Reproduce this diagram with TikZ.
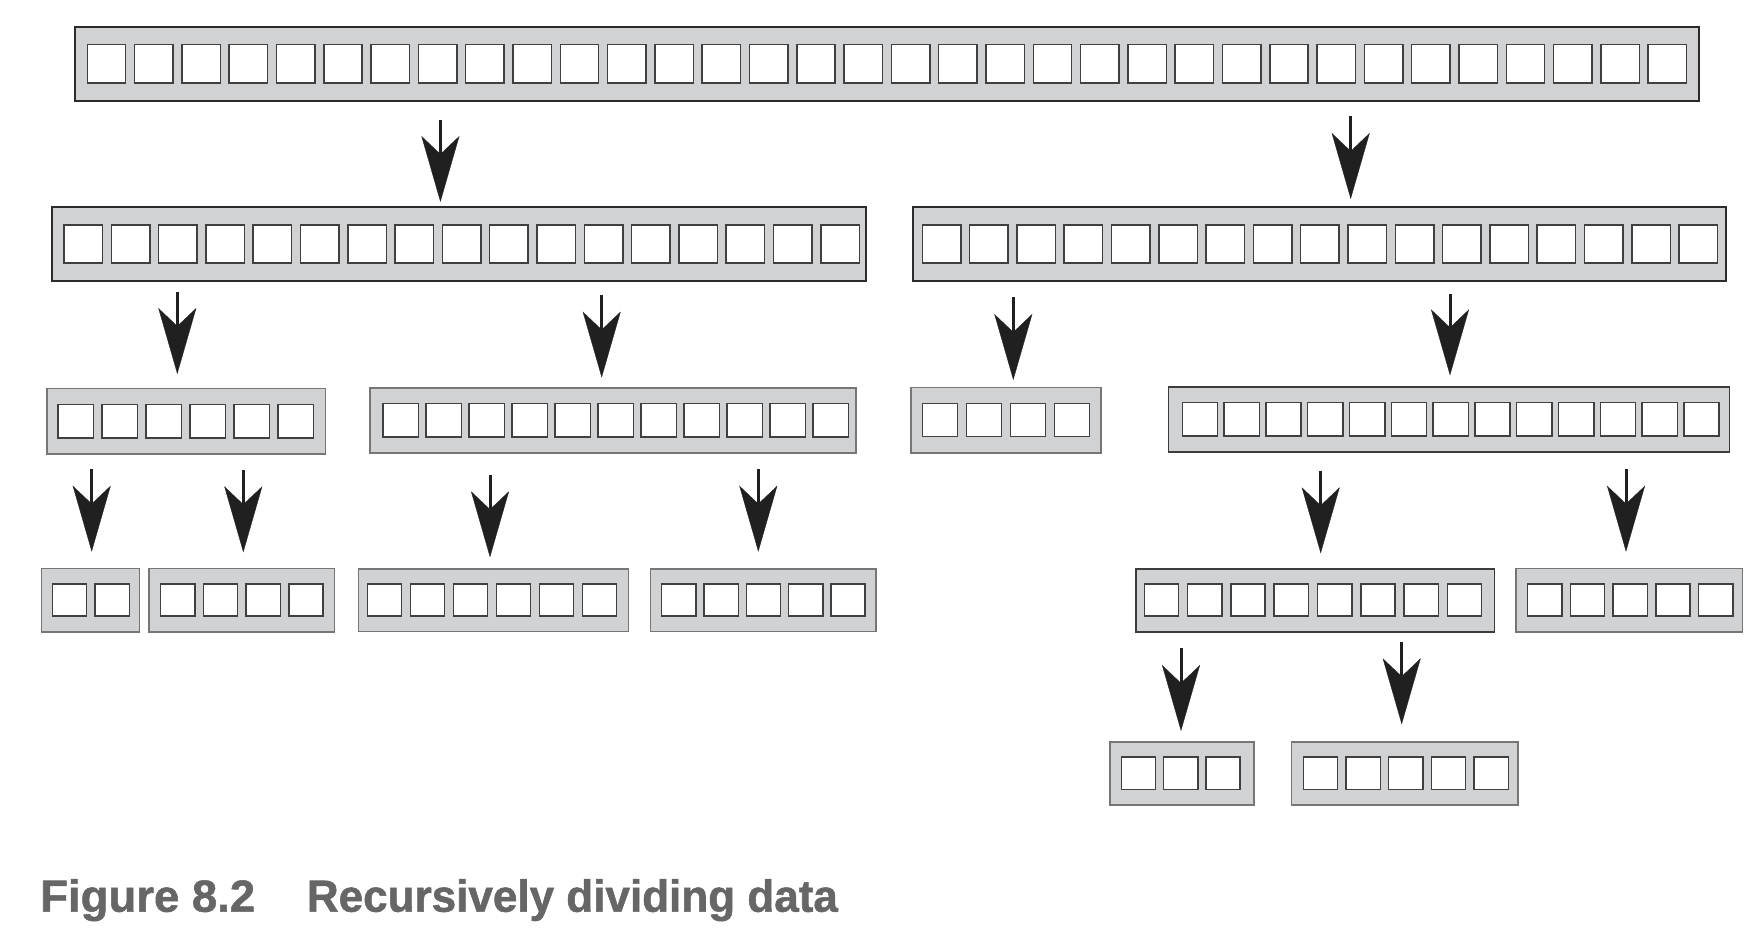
\documentclass[tikz,border=0pt]{standalone}
\usepackage{graphicx}
\usepackage{fontspec}
\setmainfont{Liberation Sans}
\newfontfamily\capfont{Liberation Sans}[BoldFeatures={FakeBold=1.2}]
\usetikzlibrary{arrows.meta}
\definecolor{boxfill}{HTML}{D1D2D4}
\definecolor{darkline}{HTML}{2B2B2B}
\definecolor{midline}{HTML}{3C3C3C}
\definecolor{lightline}{HTML}{767676}
\definecolor{cellline}{HTML}{404040}
\definecolor{arrowc}{HTML}{202020}
\definecolor{capgray}{HTML}{666666}
\newcommand{\cellw}{38}
\newcommand{\cellh}{38}
\newcommand{\setcell}[2]{\renewcommand{\cellw}{#1}\renewcommand{\cellh}{#2}}
\tikzset{
  boxdark/.style={rectangle, draw=darkline, fill=boxfill, line width=2.2pt, inner sep=0pt, outer sep=0pt},
  boxmid/.style={rectangle, draw=midline, fill=boxfill, line width=1.6pt, inner sep=0pt, outer sep=0pt},
  boxlight/.style={rectangle, draw=lightline, fill=boxfill, line width=1.6pt, inner sep=0pt, outer sep=0pt},
  cellst/.style={rectangle, draw=cellline, fill=white, line width=1.5pt, inner sep=0pt, outer sep=0pt,
     minimum width=\cellw pt, minimum height=\cellh pt},
  arr/.style={draw=arrowc, line width=3pt, -{Stealth[length=66pt,width=38pt,inset=18pt,line width=0.3pt]}},
  captext/.style={anchor=base west, inner sep=0pt, text=capgray, font=\capfont\bfseries\fontsize{45}{50}\selectfont}
}
% style, name, left, top, right, bottom, n, first cell left, pitch
\newcommand{\databox}[9]{%
  \node[#1, anchor=north west, minimum width={#5pt-#3pt}, minimum height={#6pt-#4pt}] (#2) at (#3,#4) {};
  \foreach \k in {1,...,#7}{%
    \node[cellst, anchor=west] (#2-\k) at ({#8+(\k-1)*#9},{(#4+#6)/2}) {};
  }%
}
% name, x, top, tip
\newcommand{\darrow}[4]{%
  \coordinate (#1s) at (#2,#3);
  \coordinate (#1e) at (#2,#4);
  \draw[arr] (#1s) -- (#1e);
}
\begin{document}
\begin{tikzpicture}[x=1pt,y=-1pt]
\useasboundingbox (0,0) rectangle (1757,947);
% level 1
\setcell{38.4}{38.3}
\databox{boxdark}{top}{75.3}{26.7}{1699}{100.7}{34}{87.3}{47.3}
% level 2
\setcell{38.5}{38}
\databox{boxdark}{L}{52}{206.7}{865.7}{281}{17}{64}{47.3}
\databox{boxdark}{R}{912.7}{206.7}{1726.3}{281}{17}{922.3}{47.3}
% level 3
\setcell{35.3}{33.3}
\databox{boxlight}{LL}{46.7}{388.5}{325.3}{454}{6}{58}{44}
\databox{boxlight}{LR}{370}{388}{856}{452.7}{11}{383}{43}
\databox{boxlight}{RL}{911}{387.3}{1100.7}{452.7}{4}{922.3}{44}
\databox{boxmid}{RR}{1168.3}{387}{1729.3}{451.7}{13}{1182.3}{41.8}
% level 4
\setcell{34.3}{32}
\databox{boxlight}{LLa}{41.3}{568.3}{139.3}{632}{2}{52.3}{42.7}
\databox{boxlight}{LLb}{149}{568.3}{334.3}{632}{4}{160.7}{42.7}
\databox{boxlight}{LRa}{358.3}{568.7}{628.3}{631.5}{6}{367.3}{43}
\databox{boxlight}{LRb}{650.3}{568.7}{875.7}{631.5}{5}{661.7}{42.3}
\databox{boxmid}{RRa}{1135.7}{568.7}{1494.3}{631.7}{8}{1144.3}{43.3}
\databox{boxlight}{RRb}{1516}{568.3}{1742.3}{631.7}{5}{1527.7}{42.7}
% level 5
\setcell{34.3}{32.3}
\databox{boxlight}{RRaa}{1110}{741.7}{1253.7}{805}{3}{1121.3}{42.3}
\databox{boxlight}{RRab}{1291.3}{741.7}{1517.7}{805}{5}{1303.3}{42.7}
% arrows
\darrow{a1}{440.4}{120}{202}
\darrow{a2}{1350.7}{115.7}{199}
\darrow{b1}{177.3}{291.7}{374}
\darrow{b2}{601.7}{294.7}{377.6}
\darrow{b3}{1013.3}{297.3}{380}
\darrow{b4}{1450}{293.6}{375.4}
\darrow{c1}{91.7}{469}{551.7}
\darrow{c2}{243.3}{469.7}{552.3}
\darrow{c3}{490}{475}{557.3}
\darrow{c4}{758.3}{469}{551.7}
\darrow{c5}{1320.7}{470.7}{553.3}
\darrow{c6}{1626}{469.3}{551.7}
\darrow{d1}{1181}{648.3}{731}
\darrow{d2}{1401.7}{641.7}{724.3}
% caption
\node[captext] (cap1) at (40,911.7) {\resizebox{215pt}{\height}{Figure 8.2}};
\node[captext] (cap2) at (306.7,911.7) {\resizebox{531pt}{\height}{Recursively dividing data}};
\end{tikzpicture}
\end{document}
